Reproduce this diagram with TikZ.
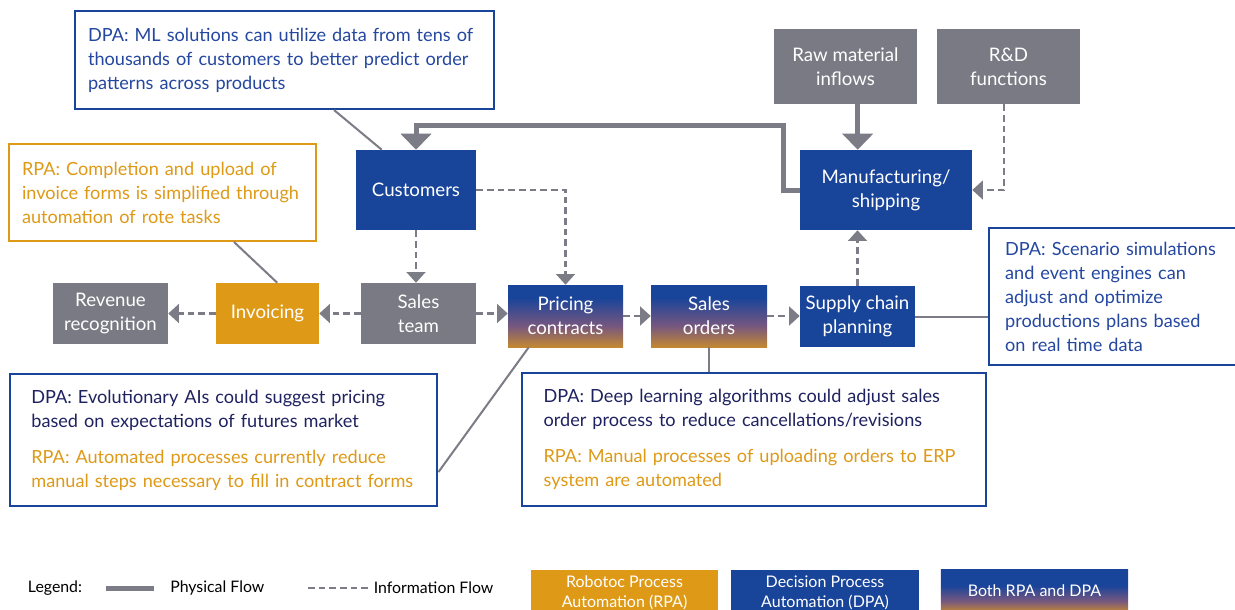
\documentclass[tikz,border=0pt]{standalone}
\usepackage{fontspec}
\setmainfont{Lato}
\usetikzlibrary{arrows.meta,calc}
\definecolor{dblue}{HTML}{18449A}
\definecolor{dgray}{HTML}{797A83}
\definecolor{dorange}{HTML}{DE9A17}
\definecolor{dmid}{HTML}{76577F}
\definecolor{tblue}{HTML}{2447A0}
\definecolor{tnavy}{HTML}{1F2260}
\definecolor{lgray}{HTML}{7B7C85}
\pgfdeclareverticalshading{bothshade}{100bp}{color(0bp)=(dorange); color(19bp)=(dorange); color(42bp)=(dmid); color(65bp)=(dblue); color(100bp)=(dblue)}
\pgfdeclareverticalshading{legshade}{100bp}{color(0bp)=(dorange); color(20bp)=(dorange); color(38bp)=(dmid); color(56bp)=(dblue); color(100bp)=(dblue)}
\tikzset{
  proc/.style={inner sep=0pt, text=white, align=center, font=\fontsize{14}{18}\selectfont},
  bluebox/.style={proc, fill=dblue},
  graybox/.style={proc, fill=dgray},
  orangebox/.style={proc, fill=dorange},
  bothbox/.style={proc, shading=bothshade},
  callout/.style={draw=dblue, line width=1.5pt, inner ysep=0pt, align=left, font=\fontsize{13.6}{18}\selectfont},
  rpacallout/.style={callout, draw=dorange, text=dorange},
  phys/.style={draw=lgray, line width=3.75pt},
  physarrow/.style={phys, -{Triangle[width=22.5pt,length=12pt]}},
  info/.style={draw=lgray, line width=2.1pt, dash pattern=on 5pt off 3pt},
  infoarrow/.style={info, -{Triangle[width=14pt,length=8pt]}},
  link/.style={draw=lgray, line width=1.5pt},
  legtext/.style={font=\fontsize{11.9}{14}\selectfont, inner sep=0pt},
  legbox/.style={inner sep=0pt, text=white, align=center, font=\fontsize{12}{15}\selectfont, minimum width=140.5pt}
}
\begin{document}
\begin{tikzpicture}[x=0.75pt,y=-0.75pt]
\useasboundingbox (0,0) rectangle (1235,610);
\fill[white] (0,0) rectangle (1235,610);

% process boxes
\node[bluebox, minimum width=90pt, minimum height=60pt] (cust) at (416,190) {Customers};
\node[graybox, minimum width=107.25pt, minimum height=56.25pt] (raw) at (845.5,66.5) {Raw material\\inflows};
\node[graybox, minimum width=107.25pt, minimum height=56.25pt] (rd) at (1008.5,66.5) {R\&D\\functions};
\node[bluebox, minimum width=129pt, minimum height=60pt] (mfg) at (886,190) {Manufacturing/\\shipping};
\node[graybox, minimum width=86.25pt, minimum height=45.75pt] (rev) at (110.5,313.5) {Revenue\\recognition};
\node[orangebox, minimum width=77.25pt, minimum height=45.75pt] (inv) at (267.5,313.5) {Invoicing};
\node[graybox, minimum width=86.25pt, minimum height=45.75pt] (sales) at (418.5,313.5) {Sales\\team};
\node[bothbox, minimum width=86.25pt, minimum height=46.5pt] (pricing) at (565.5,316) {Pricing\\contracts};
\node[bothbox, minimum width=87pt, minimum height=46.5pt] (so) at (709,316) {Sales\\orders};
\node[bluebox, minimum width=86.25pt, minimum height=45.75pt] (sup) at (857.5,316.5) {Supply chain\\planning};

% callouts
\node[callout, text=tblue, minimum width=314.25pt, minimum height=73.5pt, inner xsep=9.75pt, text width=294.75pt] (dpa1) at (284.5,60)
 {DPA: ML solutions can utilize data from tens of\\thousands of customers to better predict order\\patterns across products};
\node[rpacallout, minimum width=230.25pt, minimum height=72.75pt, inner xsep=9.75pt, text width=210.75pt] (rpa1) at (162.5,192.5)
 {RPA: Completion and upload of\\invoice forms is simplified through\\automation of rote tasks};
\node[callout, text=tblue, minimum width=196pt, minimum height=102.75pt, inner xsep=12.4pt, text width=171.2pt] (scen) at (1119.25,296.5)
 {DPA: Scenario simulations\\and event engines can\\adjust and optimize\\productions plans based\\on real time data};
\node[callout, minimum width=320.6pt, minimum height=99pt, inner xsep=16pt, text width=288.6pt] (evo) at (223.75,440)
 {\textcolor{tnavy}{DPA: Evolutionary AIs could suggest pricing}\\\textcolor{tnavy}{based on expectations of futures market}\\[9pt]
  \textcolor{dorange}{RPA: Automated processes currently reduce}\\\textcolor{dorange}{manual steps necessary to fill in contract forms}};
\node[callout, minimum width=348pt, minimum height=99.75pt, inner xsep=16.2pt, text width=315.6pt] (deep) at (754,439.5)
 {\textcolor{tnavy}{DPA: Deep learning algorithms could adjust sales}\\\textcolor{tnavy}{order process to reduce cancellations/revisions}\\[9pt]
  \textcolor{dorange}{RPA: Manual processes of uploading orders to ERP}\\\textcolor{dorange}{system are automated}};

% callout links
\draw[link] ($(dpa1.south west)+(260,0)$) -- ($(cust.north west)+(26,0)$);
\draw[link] ($(rpa1.south west)+(226,0)$) -- ($(inv.north west)+(61.5,0)$);
\draw[link] ($(pricing.south west)+(21,0)$) -- ($(evo.north east)+(0,99)$);
\draw[link] (so.south) -- (so.south |- deep.north);
\draw[link] (sup.east) -- (sup.east -| scen.west);

% physical flows
\coordinate (px) at (857.7,0);
\draw[physarrow] (mfg.west) -- ++(-16,0) -- ++(0,-64.3) -| (cust.north);
\draw[physarrow] (raw.south -| px) -- (mfg.north -| px);

% information flows
\coordinate (rx) at (1004,0);
\draw[infoarrow] (cust.south) -- (cust.south |- sales.north);
\draw[infoarrow] (cust.east) -| (pricing.north);
\draw[infoarrow] (sales.east) -- (sales.east -| pricing.west);
\draw[infoarrow] (sales.west) -- (inv.east);
\draw[infoarrow] (inv.west) -- (rev.east);
\draw[infoarrow] (pricing.east) -- (pricing.east -| so.west);
\draw[infoarrow] (so.east) -- (so.east -| sup.west);
\draw[infoarrow] (sup.north) -- (sup.north |- mfg.south);
\draw[infoarrow] (rd.south -| rx) |- (mfg.east);

% legend
\node[legtext] (leg) at (55,588) {Legend:};
\coordinate (lp1) at (106,588);
\coordinate (lp2) at (154,588);
\draw[phys] (lp1) -- (lp2);
\node[legtext, anchor=west] (legphys) at (170,588) {Physical Flow};
\coordinate (li1) at (308,588);
\coordinate (li2) at (368,588);
\draw[info] (li1) -- (li2);
\node[legtext, anchor=west] (leginfo) at (373.5,588) {Information Flow};
\node[legbox, fill=dorange, minimum height=34.5pt] (legrpa) at (624.5,593) {Robotoc Process\\Automation (RPA)};
\node[legbox, fill=dblue, minimum height=34.5pt] (legdpa) at (825,593) {Decision Process\\Automation (DPA)};
\node[legbox, shading=legshade, minimum height=32.25pt] (legboth) at (1034.5,590.5) {Both RPA and DPA};
\end{tikzpicture}
\end{document}
